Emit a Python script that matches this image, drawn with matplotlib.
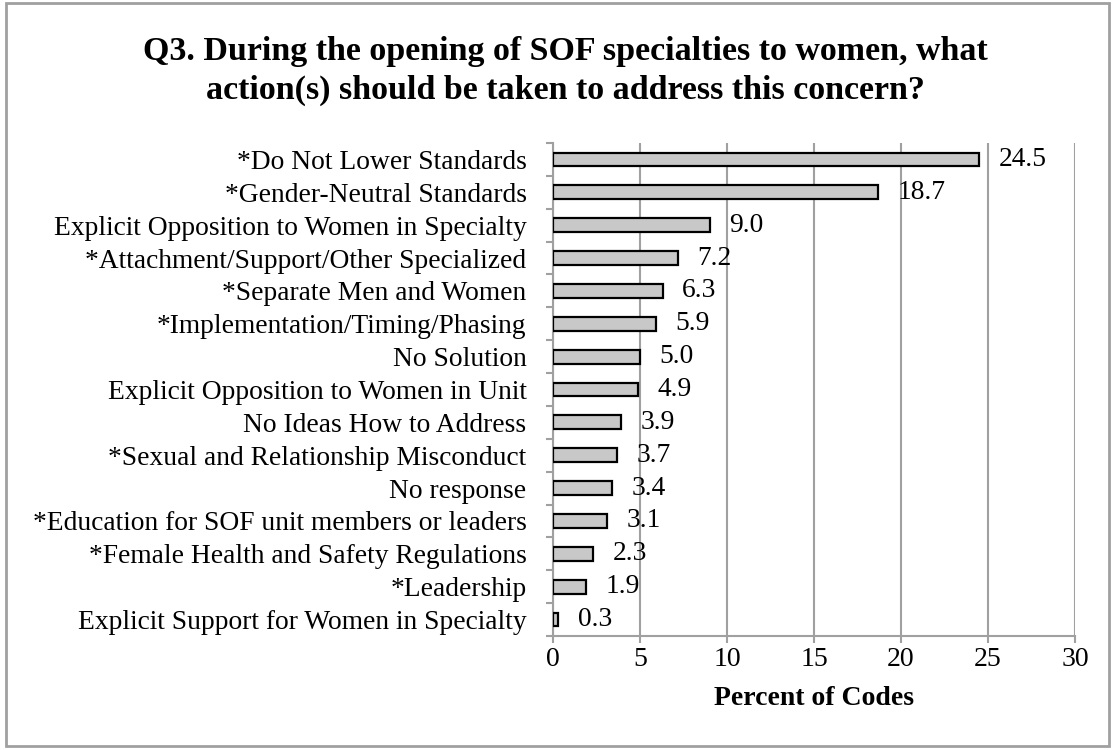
import matplotlib.pyplot as plt
from matplotlib.patches import Rectangle

categories = [
    "*Do Not Lower Standards",
    "*Gender-Neutral Standards",
    "Explicit Opposition to Women in Specialty",
    "*Attachment/Support/Other Specialized",
    "*Separate Men and Women",
    "*Implementation/Timing/Phasing",
    "No Solution",
    "Explicit Opposition to Women in Unit",
    "No Ideas How to Address",
    "*Sexual and Relationship Misconduct",
    "No response",
    "*Education for SOF unit members or leaders",
    "*Female Health and Safety Regulations",
    "*Leadership",
    "Explicit Support for Women in Specialty",
]
percent = [24.5, 18.7, 9.0, 7.2, 6.3, 5.9, 5.0, 4.9, 3.9, 3.7, 3.4, 3.1, 2.3, 1.9, 0.3]
x_ticks = [0, 5, 10, 15, 20, 25, 30]

plt.rcParams['font.family'] = ['Liberation Serif', 'DejaVu Serif']

fig = plt.figure(figsize=(11.16, 7.5), dpi=100)
ax = fig.add_axes([553 / 1116, 1 - 636 / 750, (1075 - 553) / 1116, (636 - 143) / 750])

# outer frame
fig.patches.append(Rectangle((6 / 1116, 4 / 750), 1103 / 1116, 743 / 750,
                             transform=fig.transFigure, fill=False,
                             edgecolor='#a0a0a0', linewidth=2))

y = list(range(len(categories)))
ax.barh(y, percent, height=0.42, color='#c8c8c8', edgecolor='black',
        linewidth=1.6, zorder=3)
for yi, v in zip(y, percent):
    ax.annotate(f"{v:.1f}", (v, yi), xytext=(14, 0), textcoords='offset points',
                va='center', ha='left', fontsize=19.8)

ax.set_ylim(len(categories) - 0.5, -0.5)
ax.set_xlim(0, 30)
ax.set_xticks(x_ticks)
ax.set_xticklabels([str(t) for t in x_ticks], fontsize=20)

ax.set_yticks(y)
ax.set_yticklabels(categories, fontsize=19.8)
ax.set_yticks([i - 0.5 for i in range(len(categories) + 1)], minor=True)
ax.tick_params(axis='y', which='major', length=0, pad=19)
ax.tick_params(axis='y', which='minor', length=5, color='#a0a0a0', width=1.5)
ax.tick_params(axis='x', length=5, color='#a0a0a0', width=1.5, pad=3)

ax.grid(axis='x', color='#a0a0a0', linewidth=1.5, zorder=0)
for side in ['top', 'right']:
    ax.spines[side].set_visible(False)
for side in ['left', 'bottom']:
    ax.spines[side].set_color('#a0a0a0')
    ax.spines[side].set_linewidth(1.5)

ax.set_xlabel("Percent of Codes", fontsize=20, fontweight='bold', labelpad=10)

fig.text(565 / 1116, 1 - 71 / 750,
         "Q3. During the opening of SOF specialties to women, what\n"
         "action(s) should be taken to address this concern?",
         ha='center', va='center', fontsize=24.5, fontweight='bold',
         linespacing=1.3)

fig.savefig("out.png", dpi=100)
